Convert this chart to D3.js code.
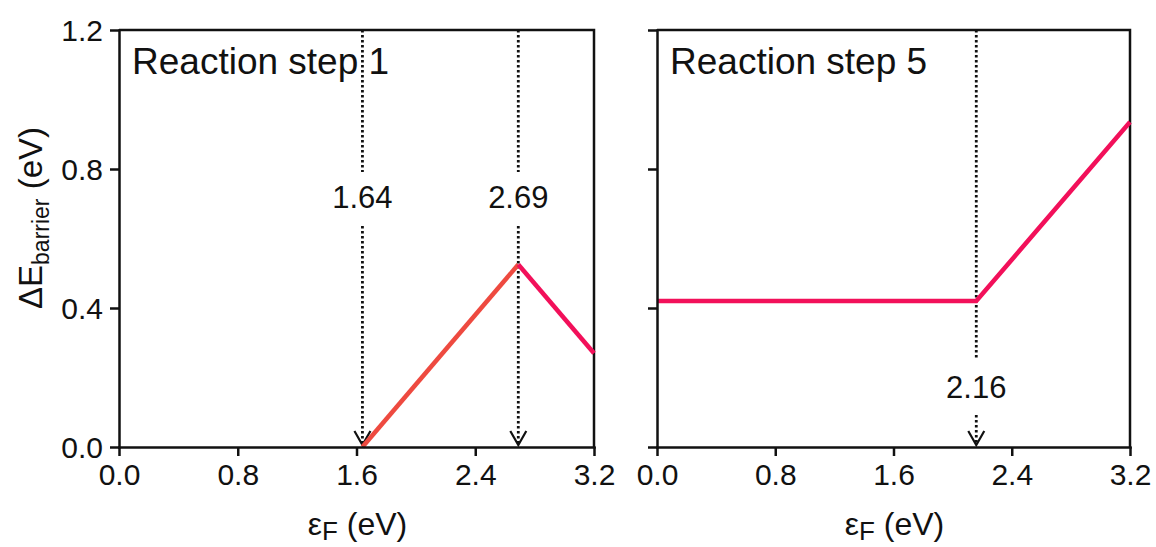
<!DOCTYPE html>
<html>
  <head>
    <meta charset="utf-8">
    <script src="https://d3js.org/d3.v7.min.js"></script>
    <style>
      body { margin: 0; background: white; }
      text { font-family: "Liberation Sans", Arial, sans-serif; fill: #111; }
      .axis path, .axis line { stroke: #111; stroke-width: 2.5; }
    </style>
  </head>
  <body>
    <script type="text/javascript">
      // axis ticks
      var xTicks = [0.0, 0.8, 1.6, 2.4, 3.2];
      var yTicks = [0.0, 0.4, 0.8, 1.2];

      // reaction step 1 : barrier vs Fermi level
      var step1Rise = [{ef: 1.64, e: 0.0}, {ef: 2.69, e: 0.525}];
      var step1Fall = [{ef: 2.69, e: 0.525}, {ef: 3.2, e: 0.27}];
      var step1Marks = [1.64, 2.69];

      // reaction step 5
      var step5Line = [{ef: 0.0, e: 0.42}, {ef: 2.16, e: 0.42}, {ef: 3.2, e: 0.935}];
      var step5Marks = [2.16];

      var W = 1156, H = 547;
      var plotTop = 30, plotBottom = 447;

      var svg = d3.select("body").append("svg")
        .attr("width", W)
        .attr("height", H);

      var y = d3.scaleLinear().domain([0, 1.2]).range([plotBottom, plotTop]);

      // one panel
      function drawPanel(left, right, title, showYLabels, series, marks, labelPos) {
        var x = d3.scaleLinear().domain([0, 3.2]).range([left, right]);
        var g = svg.append("g");

        // frame (top + right)
        g.append("path")
          .attr("d", "M" + left + "," + plotTop + "H" + right + "V" + plotBottom)
          .attr("fill", "none")
          .attr("stroke", "#111")
          .attr("stroke-width", 2.5);

        // dotted markers with arrows
        marks.forEach(function (m, i) {
          var px = x(m);
          var lp = labelPos[i];
          g.append("line")
            .attr("x1", px).attr("x2", px)
            .attr("y1", plotTop).attr("y2", lp.gapTop)
            .attr("stroke", "#111").attr("stroke-width", 2.8)
            .attr("stroke-dasharray", "2.5,2.5");
          g.append("line")
            .attr("x1", px).attr("x2", px)
            .attr("y1", lp.gapBottom).attr("y2", plotBottom - 2)
            .attr("stroke", "#111").attr("stroke-width", 2.8)
            .attr("stroke-dasharray", "2.5,2.5");
          g.append("path")
            .attr("d", "M" + (px - 8) + "," + (plotBottom - 16) + "L" + px + "," + (plotBottom - 2) + "L" + (px + 8) + "," + (plotBottom - 16))
            .attr("fill", "none")
            .attr("stroke", "#111")
            .attr("stroke-width", 2.2);
          g.append("text")
            .attr("x", px)
            .attr("y", lp.baseline)
            .attr("text-anchor", "middle")
            .attr("font-size", 31)
            .text(d3.format(".2f")(m));
        });

        // data lines
        var line = d3.line().x(d => x(d.ef)).y(d => y(d.e));
        series.forEach(function (s) {
          g.append("path")
            .datum(s.data)
            .attr("fill", "none")
            .attr("stroke", s.color)
            .attr("stroke-width", 4.5)
            .attr("d", line);
        });

        // axes
        var xAxis = d3.axisBottom(x)
          .tickValues(xTicks)
          .tickFormat(d3.format(".1f"))
          .tickSize(9)
          .tickSizeOuter(0);
        var gx = g.append("g")
          .attr("class", "axis")
          .attr("transform", "translate(0," + plotBottom + ")")
          .call(xAxis);
        gx.selectAll("text")
          .attr("font-size", 30)
          .attr("dy", "0.95em")
          .attr("y", 9);

        var yAxis = d3.axisLeft(y)
          .tickValues(yTicks)
          .tickFormat(showYLabels ? d3.format(".1f") : "")
          .tickSize(9)
          .tickSizeOuter(0);
        var gy = g.append("g")
          .attr("class", "axis")
          .attr("transform", "translate(" + left + ",0)")
          .call(yAxis);
        gy.selectAll("text")
          .attr("font-size", 30)
          .attr("x", -16)
          .attr("dy", "0.36em");
        gx.select(".domain").attr("stroke-linecap", "square");
        gy.select(".domain").attr("stroke-linecap", "square");

        // panel title
        g.append("text")
          .attr("x", left + 13)
          .attr("y", 74)
          .attr("font-size", 37)
          .text(title);

        // x title
        var xt = g.append("text")
          .attr("x", (left + right) / 2 + 1)
          .attr("y", 535)
          .attr("text-anchor", "middle")
          .attr("font-size", 32);
        xt.append("tspan").text("ε");
        xt.append("tspan").attr("font-size", 26).attr("dy", 5).text("F");
        xt.append("tspan").attr("dy", -5).text(" (eV)");
      }

      drawPanel(119, 594, "Reaction step 1", true,
        [{data: step1Rise, color: "#EE4A40"}, {data: step1Fall, color: "#F2105A"}],
        step1Marks,
        [{gapTop: 172, gapBottom: 226, baseline: 208}, {gapTop: 172, gapBottom: 226, baseline: 208}]);

      drawPanel(657, 1130, "Reaction step 5", false,
        [{data: step5Line, color: "#F2105A"}],
        step5Marks,
        [{gapTop: 358, gapBottom: 415, baseline: 398}]);

      // y title
      var yt = svg.append("text")
        .attr("transform", "translate(42,218) rotate(-90)")
        .attr("text-anchor", "middle")
        .attr("font-size", 33);
      yt.append("tspan").text("ΔE");
      yt.append("tspan").attr("font-size", 23).attr("dy", 7).text("barrier");
      yt.append("tspan").attr("dy", -7).text(" (eV)");
    </script>
  </body>
</html>
